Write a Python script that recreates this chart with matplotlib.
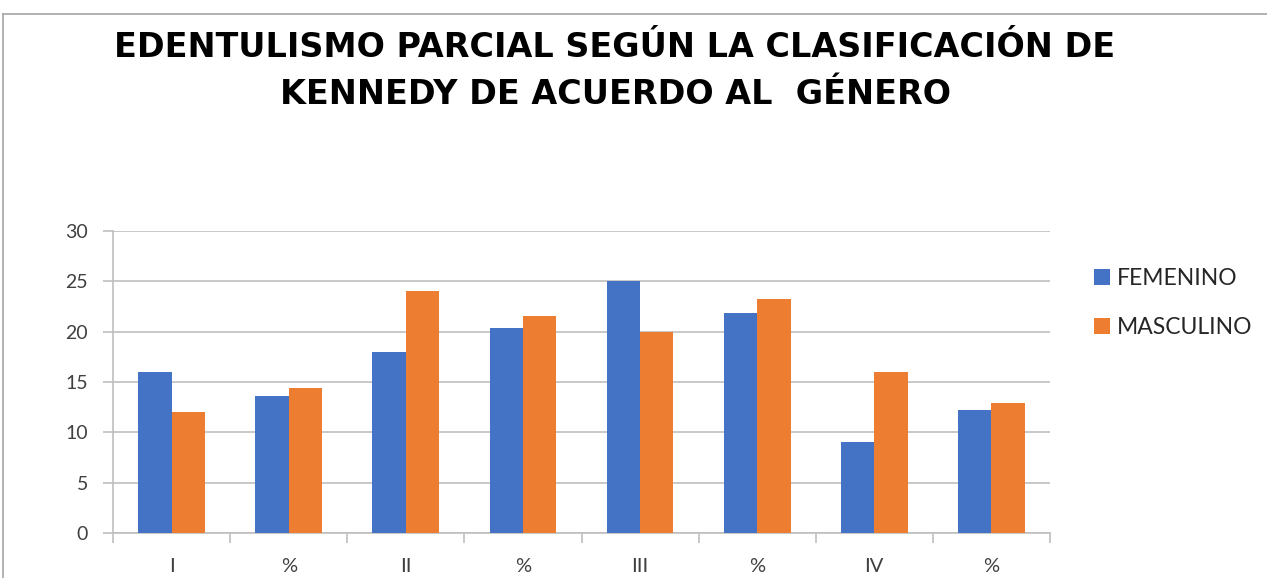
import numpy as np
import matplotlib.pyplot as plt
from matplotlib.lines import Line2D

categorias = ['I', '%', 'II', '%', 'III', '%', 'IV', '%']
femenino = [16, 13.6, 18, 20.4, 25, 21.9, 9, 12.2]
masculino = [12, 14.4, 24, 21.6, 20, 23.2, 16, 12.9]

azul = '#4472C4'
naranja = '#ED7D31'
gris_txt = '#404040'

fig = plt.figure(figsize=(12.67, 5.78), dpi=100)
ax = fig.add_axes([113/1267, 45/578, (1050-113)/1267, (533-231)/578])

x = np.arange(len(categorias))
w = 0.285
ax.bar(x - w/2, femenino, w, color=azul, label='FEMENINO', zorder=3)
ax.bar(x + w/2, masculino, w, color=naranja, label='MASCULINO', zorder=3)

ax.set_xlim(-0.5, len(categorias) - 0.5)
ax.set_ylim(0, 30)
ax.set_yticks(range(0, 31, 5))
ax.yaxis.grid(True, color='#BFBFBF', linewidth=1.2, zorder=0)

ax.set_xticks(x)
ax.set_xticklabels(categorias)
ax.set_xticks(np.arange(-0.5, len(categorias)), minor=True)
ax.tick_params(axis='x', which='major', length=0, pad=18, labelsize=14.5, labelcolor=gris_txt)
ax.tick_params(axis='x', which='minor', length=7, width=1.2, color='#BFBFBF')
ax.tick_params(axis='y', length=7, width=1.2, color='#BFBFBF', pad=11, labelsize=14, labelcolor=gris_txt)
for lab in ax.get_xticklabels() + ax.get_yticklabels():
    lab.set_family('Lato')

for s in ['top', 'right']:
    ax.spines[s].set_visible(False)
ax.spines['left'].set_color('#BFBFBF')
ax.spines['bottom'].set_color('#BFBFBF')
ax.spines['left'].set_linewidth(1.2)
ax.spines['bottom'].set_linewidth(1.2)

leg = fig.legend(loc='upper left', bbox_to_anchor=(1073/1267, 1 - 247/578), frameon=False,
                 prop={'family': 'Lato', 'size': 16.5}, handlelength=0.7, handleheight=0.7,
                 handletextpad=0.3, labelspacing=1.25, labelcolor='#262626')

fig.text(615/1267, 1 - 71/578, 'EDENTULISMO PARCIAL SEGÚN LA CLASIFICACIÓN DE\nKENNEDY DE ACUERDO AL  GÉNERO',
         ha='center', va='center', fontsize=24, fontweight='bold', family='DejaVu Sans',
         linespacing=1.55)

# marco del gráfico
fig.add_artist(Line2D([3/1267, 1], [1 - 14/578, 1 - 14/578], color='#A6A6A6', linewidth=1.2))
fig.add_artist(Line2D([3/1267, 3/1267], [0, 1 - 14/578], color='#A6A6A6', linewidth=1.2))

fig.savefig('out.png', dpi=100)
